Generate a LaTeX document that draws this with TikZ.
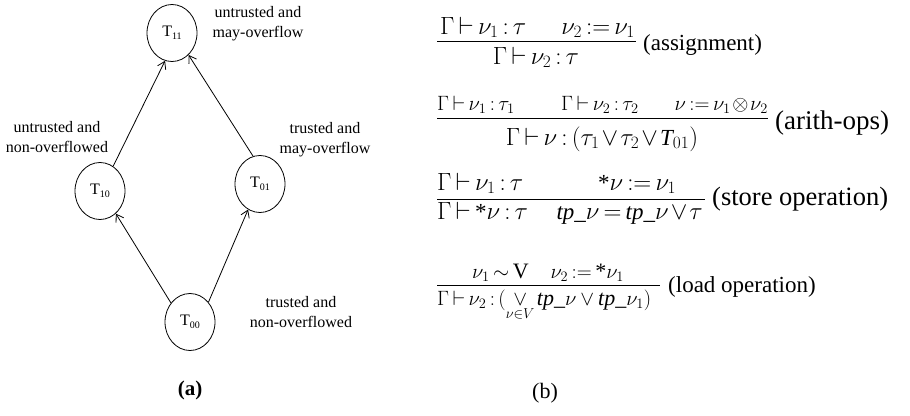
\documentclass[tikz,border=0pt]{standalone}
\usepackage{amsmath}
\usepackage{fontspec}
\setmainfont{Liberation Serif}
\usetikzlibrary{shapes.geometric,arrows.meta}
\newcommand{\Tsub}[1]{T\raisebox{-3pt}{\fontsize{10}{11}\selectfont #1}}
\newcommand{\stt}{\text{*}}
\newcommand{\tpv}{\textit{tp}\_\nu}
\newcommand{\tight}{\thickmuskip=3mu plus 1mu\medmuskip=1.5mu\thinmuskip=2mu}
\tikzset{
  st/.style={draw, ellipse, minimum width=50pt, minimum height=57pt, inner sep=0pt, line width=0.8pt, font=\fontsize{16}{18}\selectfont},
  lbl/.style={font=\fontsize{16}{20}\selectfont, align=center, inner sep=0pt},
  eq/.style={font=\fontsize{23}{28}\selectfont\tight, inner sep=0pt},
  eqs/.style={font=\fontsize{22}{26}\selectfont\tight, inner sep=0pt},
  arr/.style={-{Straight Barb[length=7pt,width=9pt]}, line width=0.8pt},
  fracline/.style={line width=1pt}
}
\begin{document}
\begin{tikzpicture}[x=1pt,y=-1pt]
\useasboundingbox (0,0) rectangle (910,415);
% lattice
\node[st] (t11) at (172,33) {\Tsub{11}};
\node[st] (t10) at (100,191) {\Tsub{10}};
\node[st] (t01) at (260,184) {\Tsub{01}};
\node[st] (t00) at (190,322) {\Tsub{00}};
\draw[arr] (t00.135) -- (t10.305);
\draw[arr] (t00.47) -- (t01.245);
\draw[arr] (t10.62) -- (t11.256);
\draw[arr] (t01.104) -- (t11.307);
\node[lbl] (l11) at (258,24) {untrusted and\\may-overflow};
\node[lbl] (l10) at (57,137) {untrusted and\\non-overflowed};
\node[lbl] (l01) at (325,140) {trusted and\\may-overflow};
\node[lbl] (l00) at (301,312) {trusted and\\non-overflowed};
\node[font=\bfseries\fontsize{21}{24}\selectfont] (capa) at (190,390) {(a)};
% assignment
\node[eq,anchor=base west] (a1) at (440,34) {$\Gamma\vdash \nu_1:\tau$};
\node[eq,anchor=base east] (a2) at (635,34) {$\nu_2 := \nu_1$};
\node[eq,anchor=base] (a3) at (536,64) {$\Gamma\vdash \nu_2:\tau$};
\draw[fracline] (437,41) coordinate (as1) -- (636,41) coordinate (as2);
\node[eq,anchor=base west] (asl) at (643,50) {(assignment)};
% arith
\node[eqs,anchor=base west] (b1) at (437,110) {$\Gamma\vdash \nu_1:\tau_1$};
\node[eqs,anchor=base] (b2) at (600,110) {$\Gamma\vdash \nu_2:\tau_2$};
\node[eqs,anchor=base east] (b3) at (768,110) {$\nu := \nu_1\otimes \nu_2$};
\node[eq,anchor=base] (b4) at (602,145) {$\Gamma\vdash \nu:(\tau_1\vee\tau_2\vee \textit{T}_{01})$};
\draw[fracline] (437,118) coordinate (ar1) -- (768,118) coordinate (ar2);
\node[eq,anchor=base west,font=\fontsize{27}{30}\selectfont] (arl) at (775,129) {(arith-ops)};
% store
\node[eq,anchor=base west] (c1) at (437,190) {$\Gamma\vdash \nu_1:\tau$};
\node[eq,anchor=base] (c2) at (637,190) {$\stt\nu := \nu_1$};
\node[eq,anchor=base west] (c3) at (437,219) {$\Gamma\vdash \stt\nu:\tau$};
\node[eq,anchor=base east] (c4) at (703,219) {$\tpv = \tpv\vee\tau$};
\draw[fracline] (437,199) coordinate (so1) -- (705,199) coordinate (so2);
\node[eq,anchor=base west,font=\fontsize{26.5}{30}\selectfont] (sol) at (712,205) {(store operation)};
% load
\node[eqs,anchor=base] (d1) at (548,278) {$\nu_1\sim \mathrm{V}\quad \nu_2 := \stt\nu_1$};
\node[eqs,anchor=base west] (d2) at (437,305) {$\Gamma\vdash \nu_2:(\mathop{\vee}\limits_{\nu\in V} \tpv\,\vee\,\tpv_1)$};
\draw[fracline] (437,285) coordinate (lo1) -- (660,285) coordinate (lo2);
\node[eq,anchor=base west] (lol) at (668,292) {(load operation)};
\node[font=\fontsize{22}{26}\selectfont] (capb) at (545,393) {(b)};
\end{tikzpicture}
\end{document}
